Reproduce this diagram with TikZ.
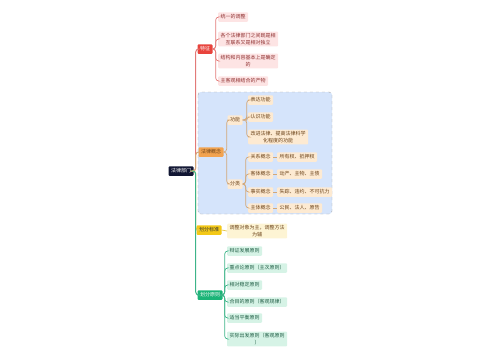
\documentclass[tikz,border=0pt]{standalone}
\usepackage{fontspec}
\newfontfamily\cjk{Noto Sans CJK SC}
\usepackage{tikz}

\definecolor{rootbg}{HTML}{111633}
\definecolor{tzred}{HTML}{E8433C}
\definecolor{tzline}{HTML}{E27A78}
\definecolor{tzleaf}{HTML}{FDE4E4}
\definecolor{tztext}{HTML}{8E2E2E}
\definecolor{gnorange}{HTML}{F2A350}
\definecolor{gnline}{HTML}{D3A878}
\definecolor{gnleaf}{HTML}{FDEAD2}
\definecolor{gntext}{HTML}{6B4218}
\definecolor{bluebox}{HTML}{D5E4FB}
\definecolor{bzyellow}{HTML}{F3C817}
\definecolor{bzline}{HTML}{E6C94A}
\definecolor{bzleaf}{HTML}{FDF4D4}
\definecolor{yzgreen}{HTML}{1BB477}
\definecolor{yzline}{HTML}{3DB489}
\definecolor{yzleaf}{HTML}{D6F3E6}
\definecolor{yztext}{HTML}{1E5C43}

\begin{document}
\begin{tikzpicture}[x=1pt, y=-1pt,
  every node/.style={font=\cjk\fontsize{5}{6.2}\selectfont, inner xsep=2.5pt, inner ysep=2pt,
    minimum height=9.5pt, rounded corners=1pt, align=center},
  topic/.style={fill=#1, text=white, minimum width=15pt},
  leaf/.style={fill=#1, anchor=west},
  link/.style={draw=#1, line width=0.7pt, rounded corners=3pt}]
  \useasboundingbox (0,0) rectangle (500,360);

  % Concept area background
  \draw[gray!70, dashed, fill=bluebox, rounded corners=3pt] (198,92) rectangle (332,214);

  % Root
  \node[topic=rootbg, minimum width=25pt] (rt) at (181,171) {法律部门};

  % Features
  \node[topic=tzred] (tz) at (205,49) {特征};
  \node[leaf=tzleaf, text=tztext] (tz1) at (218,17) {统一的调整};
  \node[leaf=tzleaf, text=tztext] (tz2) at (218,39) {各个法律部门之间既是相\\互联系又是相对独立};
  \node[leaf=tzleaf, text=tztext] (tz3) at (218,61) {结构和内容基本上是确定\\的};
  \node[leaf=tzleaf, text=tztext] (tz4) at (218,81) {主客观相结合的产物};

  % Legal concepts
  \node[topic=gnorange, text=gntext] (gn) at (211,152) {法律概念};
  \node[fill=gnleaf, text=gntext] (gn1) at (235,120) {功能};
  \node[leaf=gnleaf, text=gntext] (gn11) at (248,100) {表达功能};
  \node[leaf=gnleaf, text=gntext] (gn12) at (248,117) {认识功能};
  \node[leaf=gnleaf, text=gntext] (gn13) at (248,137) {改进法律、提高法律科学\\化程度的功能};
  \node[fill=gnleaf, text=gntext] (gn2) at (235,184) {分类};
  \node[leaf=gnleaf, text=gntext] (gn21) at (248,157) {关系概念};
  \node[leaf=gnleaf, text=gntext] (gn22) at (248,174) {客体概念};
  \node[leaf=gnleaf, text=gntext] (gn23) at (248,192) {事实概念};
  \node[leaf=gnleaf, text=gntext] (gn24) at (248,208) {主体概念};
  \node[leaf=gnleaf, text=gntext] (ex1) at (277,157) {所有权、抵押权};
  \node[leaf=gnleaf, text=gntext] (ex2) at (277,174) {动产、主物、主债};
  \node[leaf=gnleaf, text=gntext] (ex3) at (277,192) {失踪、违约、不可抗力};
  \node[leaf=gnleaf, text=gntext] (ex4) at (277,208) {公民、法人、原告};

  % Criterion
  \node[topic=bzyellow, text=black!80] (bz) at (209,230) {划分标准};
  \node[leaf=bzleaf, text=gntext] (bz1) at (227,231) {调整对象为主，调整方法\\为辅};

  % Principles
  \node[topic=yzgreen] (yz) at (210,295) {划分原则};
  \node[leaf=yzleaf, text=yztext] (yz1) at (227,251) {辩证发展原则};
  \node[leaf=yzleaf, text=yztext] (yz2) at (227,268) {重点论原则（主次原则）};
  \node[leaf=yzleaf, text=yztext] (yz3) at (227,285) {相对稳定原则};
  \node[leaf=yzleaf, text=yztext] (yz4) at (227,302) {合目的原则（客观规律）};
  \node[leaf=yzleaf, text=yztext] (yz5) at (227,318) {适当平衡原则};
  \node[leaf=yzleaf, text=yztext] (yz6) at (227,339) {实际出发原则（客观原则\\）};

  % Branches from root
  \draw[link=tzline, line width=1pt] (rt.east) -- ++(2,0) |- (tz.west);
  \draw[link=gnline, line width=1pt] (rt.east) -- ++(2,0) |- (gn.west);
  \draw[link=bzline, line width=1pt] (rt.east) -- ++(2,0) |- (bz.west);
  \draw[link=yzline, line width=1pt] (rt.east) -- ++(2,0) |- (yz.west);

  % Sub branches
  \foreach \n in {tz1,tz2,tz3,tz4}
    \draw[link=tzline] (tz.east) -- ++(3,0) |- (\n.west);
  \foreach \n in {gn1,gn2}
    \draw[link=gnline] (gn.east) -- ++(3,0) |- (\n.west);
  \foreach \n in {gn11,gn12,gn13}
    \draw[link=gnline] (gn1.east) -- ++(4,0) |- (\n.west);
  \foreach \n in {gn21,gn22,gn23,gn24}
    \draw[link=gnline] (gn2.east) -- ++(3,0) |- (\n.west);
  \foreach \i in {1,2,3,4}
    \draw[link=gnline] (gn2\i.east) -- (ex\i.west);
  \draw[link=bzline] (bz.east) -- (bz1.west);
  \foreach \n in {yz1,yz2,yz3,yz4,yz5,yz6}
    \draw[link=yzline] (yz.east) -- ++(2,0) |- (\n.west);
\end{tikzpicture}
\end{document}
